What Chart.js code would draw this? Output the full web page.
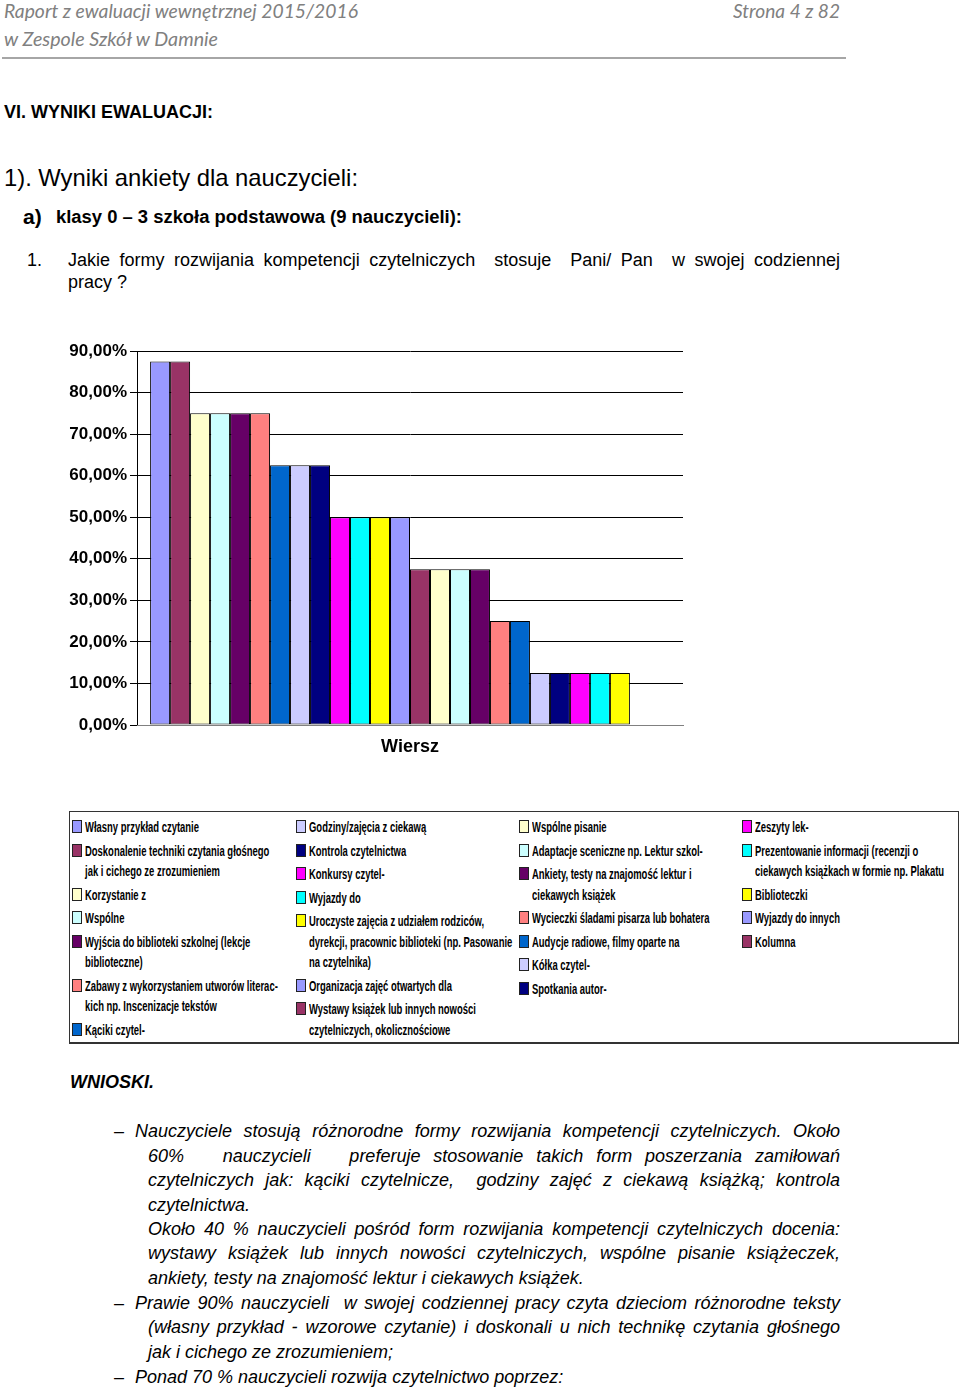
<!DOCTYPE html>
<html lang="pl">
<head>
<meta charset="utf-8">
<script src="https://cdn.jsdelivr.net/npm/chart.js@4.4.1/dist/chart.umd.min.js"></script>
<style>
  body { margin: 0; background: #fff; }
  #page { position: relative; width: 960px; height: 1389px; overflow: hidden; font-family: Arial, "Liberation Sans", sans-serif; color: #000; }
  .t { position: absolute; white-space: pre; line-height: 24px; }
  .t > span { display: inline-block; transform-origin: left center; }
  .hdr { font-family: Lato, "Open Sans", sans-serif; font-style: italic; font-size: 19px; color: #808080; }
  .body { font-size: 18px; font-style: italic; }
  #rule { position: absolute; left: 2px; top: 57px; width: 844px; height: 2px; background: #a6a6a6; }
  #chartBox { position: absolute; left: 40px; top: 330px; width: 680px; height: 440px; }
  #legend { position: absolute; left: 69px; top: 811px; width: 890px; height: 233px; box-sizing: border-box; border: 1px solid #333; border-bottom-width: 2px; }
  .col { position: absolute; top: 5px; }
  .entry { position: relative; padding-left: 13px; margin-bottom: 3px; }
  .sw { position: absolute; left: 0; top: 3px; width: 10px; height: 13px; box-sizing: border-box; border: 1px solid #222; }
  .ln { height: 20.5px; line-height: 20.5px; white-space: pre; font-family: "Liberation Sans Narrow", "Liberation Sans", Arial, sans-serif; font-size: 14px; font-weight: bold; color: #000; }
  .ln > span { display: inline-block; transform-origin: left center; }
</style>
</head>
<body>
<div id="page">
  <div class="t hdr" style="left:4px; top:-1px;" data-w="354"><span>Raport z ewaluacji wewnętrznej 2015/2016</span></div>
  <div class="t hdr" style="left:733px; top:-1px;" data-w="107"><span>Strona 4 z 82</span></div>
  <div class="t hdr" style="left:4px; top:27px;" data-w="214"><span>w Zespole Szkół w Damnie</span></div>
  <div id="rule"></div>

  <div class="t" style="left:4px; top:100px; font-size:18px; font-weight:bold; text-decoration:underline;"><span>VI. WYNIKI EWALUACJI:</span></div>
  <div class="t" style="left:4px; top:166px; font-size:24px;" data-w="354"><span>1). Wyniki ankiety dla nauczycieli:</span></div>
  <div class="t" style="left:23px; top:205px; font-size:21px; font-weight:bold;"><span>a)</span></div>
  <div class="t" style="left:56px; top:205px; font-size:18px; font-weight:bold; text-decoration:underline;" data-w="406"><span>klasy 0 – 3 szkoła podstawowa (9 nauczycieli):</span></div>
  <div class="t" style="left:27px; top:248px; font-size:18px;"><span>1.</span></div>
  <div class="t" style="left:68px; top:248px; font-size:18px;" data-j="772"><span>Jakie formy rozwijania kompetencji czytelniczych  stosuje  Pani/ Pan  w swojej codziennej</span></div>
  <div class="t" style="left:68px; top:270px; font-size:18px;"><span>pracy ?</span></div>

  <div id="chartBox"><canvas id="chart" width="680" height="440"></canvas></div>
  <div id="legend"></div>

  <div class="t" style="left:70px; top:1070px; font-size:18px; font-weight:bold; font-style:italic; text-decoration:underline;"><span>WNIOSKI.</span></div>

  <div class="t body" style="left:114px; top:1119px; font-style:normal;"><span>–</span></div>
  <div class="t body" style="left:135px; top:1119px;" data-j="705"><span>Nauczyciele stosują różnorodne formy rozwijania kompetencji czytelniczych. Około</span></div>
  <div class="t body" style="left:148px; top:1144px;" data-j="692"><span>60%   nauczycieli   preferuje stosowanie takich form poszerzania zamiłowań</span></div>
  <div class="t body" style="left:148px; top:1168px;" data-j="692"><span>czytelniczych jak: kąciki czytelnicze,  godziny zajęć z ciekawą książką; kontrola</span></div>
  <div class="t body" style="left:148px; top:1193px;"><span>czytelnictwa.</span></div>
  <div class="t body" style="left:148px; top:1217px;" data-j="692"><span>Około 40 % nauczycieli pośród form rozwijania kompetencji czytelniczych docenia:</span></div>
  <div class="t body" style="left:148px; top:1241px;" data-j="692"><span>wystawy książek lub innych nowości czytelniczych, wspólne pisanie książeczek,</span></div>
  <div class="t body" style="left:148px; top:1266px;"><span>ankiety, testy na znajomość lektur i ciekawych książek.</span></div>
  <div class="t body" style="left:114px; top:1291px; font-style:normal;"><span>–</span></div>
  <div class="t body" style="left:135px; top:1291px;" data-j="705"><span>Prawie 90% nauczycieli  w swojej codziennej pracy czyta dzieciom różnorodne teksty</span></div>
  <div class="t body" style="left:148px; top:1315px;" data-j="692"><span>(własny przykład - wzorowe czytanie) i doskonali u nich technikę czytania głośnego</span></div>
  <div class="t body" style="left:148px; top:1340px;"><span>jak i cichego ze zrozumieniem;</span></div>
  <div class="t body" style="left:114px; top:1365px; font-style:normal;"><span>–</span></div>
  <div class="t body" style="left:135px; top:1365px;"><span>Ponad 70 % nauczycieli rozwija czytelnictwo poprzez:</span></div>
</div>

<script>
// chart data
const categories = ['Wiersz'];
const seriesLabels = [
  'Własny przykład czytanie',
  'Doskonalenie techniki czytania głośnego\njak i cichego ze zrozumieniem',
  'Korzystanie z',
  'Wspólne',
  'Wyjścia do biblioteki szkolnej (lekcje\nbiblioteczne)',
  'Zabawy z wykorzystaniem utworów literac-\nkich np. Inscenizacje tekstów',
  'Kąciki czytel-',
  'Godziny/zajęcia z ciekawą',
  'Kontrola czytelnictwa',
  'Konkursy czytel-',
  'Wyjazdy do',
  'Uroczyste zajęcia z udziałem rodziców,\ndyrekcji, pracownic biblioteki (np. Pasowanie\nna czytelnika)',
  'Organizacja zajęć otwartych dla',
  'Wystawy książek lub innych nowości\nczytelniczych, okolicznościowe',
  'Wspólne pisanie',
  'Adaptacje sceniczne np. Lektur szkol-',
  'Ankiety, testy na znajomość lektur i\nciekawych książek',
  'Wycieczki śladami pisarza lub bohatera',
  'Audycje radiowe, filmy oparte na',
  'Kółka czytel-',
  'Spotkania autor-',
  'Zeszyty lek-',
  'Prezentowanie informacji (recenzji o\nciekawych książkach w formie np. Plakatu',
  'Biblioteczki',
  'Wyjazdy do innych',
  'Kolumna'
];
const seriesValues = [87.5, 87.5, 75, 75, 75, 75, 62.5, 62.5, 62.5, 50, 50, 50, 50,
  37.5, 37.5, 37.5, 37.5, 25, 25, 12.5, 12.5, 12.5, 12.5, 12.5, 0, 0];
const seriesColors = ['#9999ff', '#993366', '#ffffcc', '#ccffff', '#660066', '#ff8080', '#0066cc',
  '#ccccff', '#000080', '#ff00ff', '#00ffff', '#ffff00', '#9999ff', '#993366', '#ffffcc', '#ccffff',
  '#660066', '#ff8080', '#0066cc', '#ccccff', '#000080', '#ff00ff', '#00ffff', '#ffff00', '#9999ff', '#993366'];
const yTickLabels = ['0,00%', '10,00%', '20,00%', '30,00%', '40,00%', '50,00%', '60,00%', '70,00%', '80,00%', '90,00%'];
const legendColumns = [7, 7, 7, 5];

// text fitting: data-w scales to width, data-j justifies by word spacing
document.querySelectorAll('[data-w]').forEach(el => {
  const s = el.firstElementChild;
  const w = s.getBoundingClientRect().width;
  s.style.transform = `scaleX(${el.dataset.w / w})`;
});
document.querySelectorAll('[data-j]').forEach(el => {
  const s = el.firstElementChild;
  const target = +el.dataset.j;
  const w = s.getBoundingClientRect().width;
  const spaces = (s.textContent.match(/ /g) || []).length;
  if (w > target) {
    s.style.transform = `scaleX(${target / w})`;
  } else if (spaces) {
    s.style.wordSpacing = ((target - w) / spaces) + 'px';
  }
});

const datasets = seriesLabels.map((label, i) => ({
  label: label.replace(/\n/g, ' '),
  data: [seriesValues[i]],
  backgroundColor: seriesColors[i],
  borderColor: '#000',
  borderWidth: 1,
  borderSkipped: false,
  categoryPercentage: 0.952,
  barPercentage: 1
}));

const ctx = document.getElementById('chart').getContext('2d');
const chart = new Chart(ctx, {
  type: 'bar',
  data: { labels: categories, datasets },
  options: {
    responsive: false,
    animation: false,
    devicePixelRatio: 1,
    layout: { padding: { top: 21, right: 37, left: 0, bottom: 0 } },
    plugins: {
      legend: { display: false },
      tooltip: { enabled: false }
    },
    scales: {
      y: {
        min: 0,
        max: 90,
        ticks: {
          stepSize: 10,
          color: '#000',
          padding: 3,
          font: { family: 'Arial, "Liberation Sans"', size: 17, weight: 'bold' },
          callback: (v, i) => yTickLabels[i]
        },
        grid: { color: '#000', lineWidth: 1, tickLength: 7 },
        border: { display: true, color: '#000', width: 1 },
        afterFit: (scale) => { scale.width = 97; }
      },
      x: {
        grid: { display: false },
        border: { display: true, color: '#808080', width: 1 },
        ticks: {
          color: '#000',
          padding: 3,
          font: { family: 'Arial, "Liberation Sans"', size: 18, weight: 'bold' }
        },
        afterFit: (scale) => { scale.height = 45; }
      }
    }
  }
});

// HTML legend, column by column like the original
const legend = document.getElementById('legend');
const colLefts = [2, 226, 449, 672];
const m = document.createElement('canvas').getContext('2d');
m.font = 'bold 14px "Liberation Sans Narrow", "Liberation Sans", Arial, sans-serif';
const legendScale = 114 / m.measureText('Własny przykład czytanie').width;
let idx = 0;
legendColumns.forEach((n, c) => {
  const col = document.createElement('div');
  col.className = 'col';
  col.style.left = colLefts[c] + 'px';
  for (let k = 0; k < n; k++, idx++) {
    const entry = document.createElement('div');
    entry.className = 'entry';
    const sw = document.createElement('div');
    sw.className = 'sw';
    sw.style.background = chart.data.datasets[idx].backgroundColor;
    entry.appendChild(sw);
    seriesLabels[idx].split('\n').forEach(line => {
      const ln = document.createElement('div');
      ln.className = 'ln';
      const sp = document.createElement('span');
      sp.textContent = line;
      sp.style.transform = `scaleX(${legendScale})`;
      ln.appendChild(sp);
      entry.appendChild(ln);
    });
    col.appendChild(entry);
  }
  legend.appendChild(col);
});
</script>
</body>
</html>
